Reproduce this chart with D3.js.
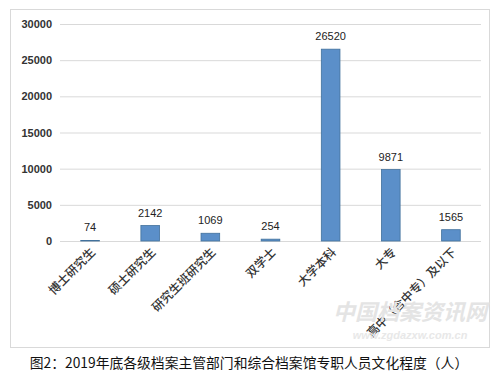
<!DOCTYPE html>
<html>
<head>
<meta charset="utf-8">
<script src="https://d3js.org/d3.v7.min.js"></script>
<style>
  body { margin: 0; background: #fff; }
  svg { display: block; }
</style>
</head>
<body>
<div id="chart"></div>
<script>
// Data
const categories = ["博士研究生", "硕士研究生", "研究生班研究生", "双学士", "大学本科", "大专", "高中（含中专）及以下"];
const counts = [74, 2142, 1069, 254, 26520, 9871, 1565];
const yTicks = [0, 5000, 10000, 15000, 20000, 25000, 30000];
const caption = "图2：2019年底各级档案主管部门和综合档案馆专职人员文化程度（人）";

// Sizing
const W = 498, H = 379;
const margin = { top: 24, right: 17, bottom: 138, left: 60 };
const width = W - margin.left - margin.right;
const height = H - margin.top - margin.bottom;

const svg = d3.select("#chart").append("svg")
    .attr("width", W)
    .attr("height", H);

// Chart frame
svg.append("rect")
    .attr("x", 10.5).attr("y", 9.5)
    .attr("width", 479).attr("height", 338)
    .attr("fill", "none")
    .attr("stroke", "#d9d9d9");

const plot = svg.append("g")
    .attr("transform", `translate(${margin.left}, ${margin.top})`);

const x = d3.scaleBand()
    .domain(categories)
    .range([0, width])
    .paddingInner(0.69)
    .paddingOuter(0.345);

const y = d3.scaleLinear()
    .domain([0, 30000])
    .range([height, 0]);

// Gridlines + y labels
const yAxis = plot.append("g")
    .call(d3.axisLeft(y).tickValues(yTicks).tickSize(-width).tickFormat(d3.format("d")));
yAxis.select(".domain").remove();
yAxis.selectAll(".tick line").attr("stroke", "#d9d9d9");
yAxis.selectAll(".tick text")
    .attr("x", -8)
    .attr("fill", "#333")
    .style("font-family", "Liberation Sans, Arial, sans-serif")
    .style("font-size", "11px")
    .style("font-weight", "bold");

// Bars
plot.selectAll(".bar")
    .data(categories)
    .enter()
    .append("rect")
        .attr("class", "bar")
        .attr("x", d => x(d))
        .attr("y", (d, i) => y(counts[i]))
        .attr("width", x.bandwidth())
        .attr("height", (d, i) => height - y(counts[i]))
        .attr("fill", "#5b8fc9")
        .attr("stroke", "#41719c")
        .attr("stroke-width", 0.8);

// Value labels
plot.selectAll(".val")
    .data(categories)
    .enter()
    .append("text")
        .attr("class", "val")
        .attr("x", d => x(d) + x.bandwidth() / 2)
        .attr("y", (d, i) => y(counts[i]) - 9)
        .attr("text-anchor", "middle")
        .attr("fill", "#222")
        .style("font-family", "Liberation Sans, Arial, sans-serif")
        .style("font-size", "11px")
        .text((d, i) => counts[i]);

// Category labels (rotated)
plot.selectAll(".cat")
    .data(categories)
    .enter()
    .append("text")
        .attr("class", "cat")
        .attr("transform", d => `translate(${x(d) + x.bandwidth() / 2 + 6}, ${height + 12}) rotate(-45)`)
        .attr("text-anchor", "end")
        .attr("fill", "#333")
        .style("font-family", "Noto Sans CJK SC, sans-serif")
        .style("font-size", "12px")
        .style("font-weight", "500")
        .text(d => d);

// Watermark
svg.append("text")
    .attr("x", 410).attr("y", 320)
    .attr("text-anchor", "middle")
    .attr("fill", "#e4e4e4")
    .style("font-family", "Noto Sans CJK SC, sans-serif")
    .style("font-size", "22px")
    .style("font-weight", "bold")
    .style("font-style", "italic")
    .text("中国档案资讯网");
svg.append("text")
    .attr("x", 410).attr("y", 339)
    .attr("text-anchor", "middle")
    .attr("fill", "#e8e8e8")
    .style("font-family", "Liberation Sans, Arial, sans-serif")
    .style("font-size", "11px")
    .style("font-weight", "bold")
    .style("font-style", "italic")
    .text("www.zgdazxw.com.cn");

// Caption
svg.append("text")
    .attr("x", W / 2).attr("y", 368)
    .attr("text-anchor", "middle")
    .attr("fill", "#111")
    .style("font-family", "Noto Sans CJK SC, sans-serif")
    .style("font-size", "13.8px")
    .text(caption);
</script>
</body>
</html>
